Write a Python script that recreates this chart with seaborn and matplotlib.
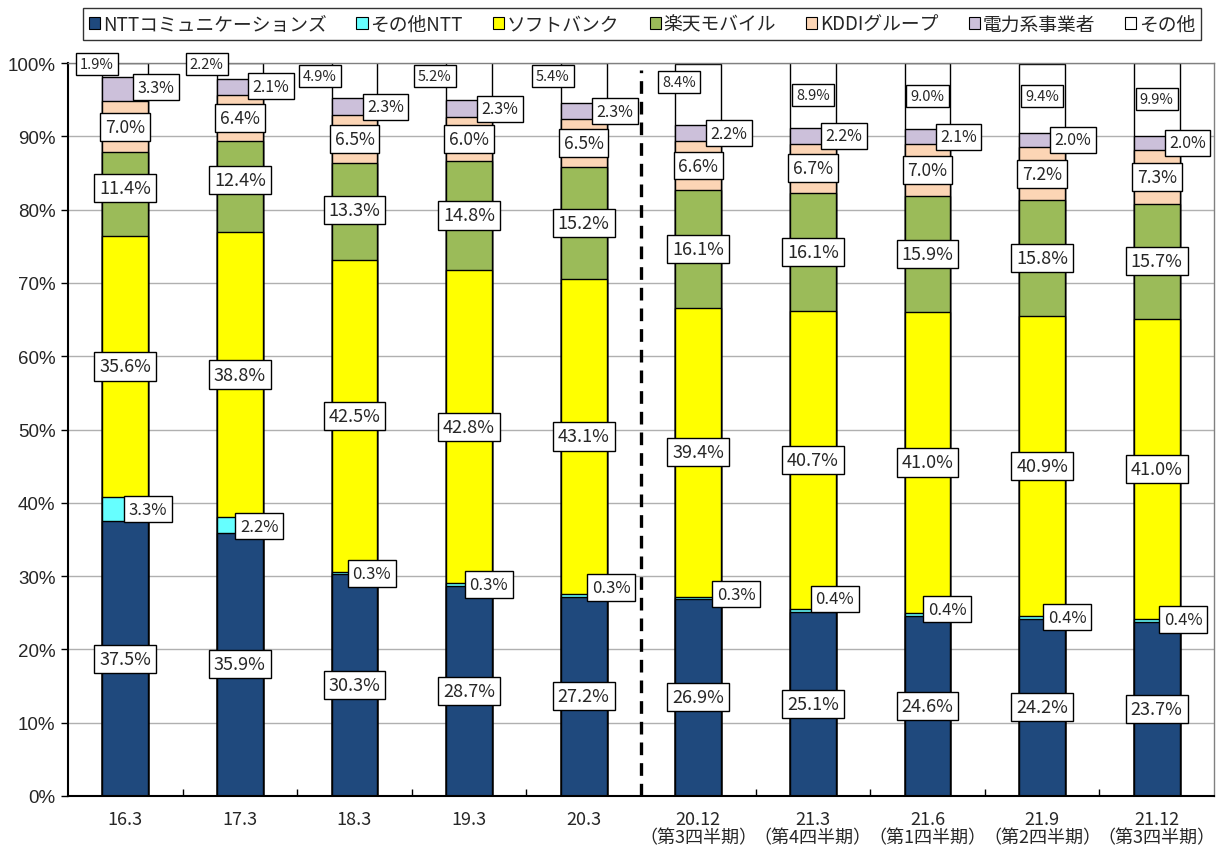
import numpy as np
import pandas as pd
import matplotlib
matplotlib.use("Agg")
import matplotlib.pyplot as plt
import seaborn as sns
from matplotlib.patches import Patch
from matplotlib.ticker import FixedLocator, MultipleLocator, PercentFormatter

# ---------------- data ----------------
periods = ["16.3", "17.3", "18.3", "19.3", "20.3", "20.12", "21.3", "21.6", "21.9", "21.12"]
quarters = ["", "", "", "", "", "（第3四半期）", "（第4四半期）", "（第1四半期）", "（第2四半期）", "（第3四半期）"]

series_names = ["NTTコミュニケーションズ", "その他NTT", "ソフトバンク", "楽天モバイル",
                "KDDIグループ", "電力系事業者", "その他"]
ntt_com = [37.5, 35.9, 30.3, 28.7, 27.2, 26.9, 25.1, 24.6, 24.2, 23.7]
ntt_other = [3.3, 2.2, 0.3, 0.3, 0.3, 0.3, 0.4, 0.4, 0.4, 0.4]
softbank = [35.6, 38.8, 42.5, 42.8, 43.1, 39.4, 40.7, 41.0, 40.9, 41.0]
rakuten = [11.4, 12.4, 13.3, 14.8, 15.2, 16.1, 16.1, 15.9, 15.8, 15.7]
kddi = [7.0, 6.4, 6.5, 6.0, 6.5, 6.6, 6.7, 7.0, 7.2, 7.3]
electric = [3.3, 2.1, 2.3, 2.3, 2.3, 2.2, 2.2, 2.1, 2.0, 2.0]
others = [1.9, 2.2, 4.9, 5.2, 5.4, 8.4, 8.9, 9.0, 9.4, 9.9]

# ---------------- styles (label placement nudges) ----------------
colors = ["#1F497D", "#66FFFF", "#FFFF00", "#9BBB59", "#FCD5B5", "#CCC0DA", "#FFFFFF"]
label_size = [13, 12, 13, 13, 12.5, 11.5, 10.5]
zero = [0] * 10
label_dx = [zero,
            [0.2, 0.17, 0.15, 0.17, 0.24, 0.33, 0.19, 0.17, 0.22, 0.23],
            zero, zero, zero,
            [0.27] * 10,
            [-0.25, -0.29, -0.30, -0.30, -0.27, -0.17, 0, 0, 0, 0]]
label_dy = [zero,
            [0, -0.2, -0.1, 0, 1.1, 0.5, 1.6, 0.7, 0, 0.2],
            zero,
            [0.8, 0.9, 0.2, 0, 0, 0, 0, 0, 0, 0],
            zero,
            [0.25, 0.1, 0, 0, 0, 0, 0, 0, 0, 0],
            [0.85, 1.0, 0.6, 0.75, 0.9, 1.75, 0, 0, 0.25, 0]]

NUM_FONT = ["Noto Sans CJK JP", "DejaVu Sans"]
JP_FONT = ["Noto Sans CJK JP", "DejaVu Sans"]

sns.set_theme(style="white")
plt.rcParams["font.family"] = ["Liberation Sans", "Noto Sans CJK JP", "DejaVu Sans"]

values = [ntt_com, ntt_other, softbank, rakuten, kddi, electric, others]
data = pd.DataFrame({name: vals for name, vals in zip(series_names, values)}, index=periods)
cum = data.cumsum(axis=1)

fig = plt.figure(figsize=(12.19, 8.54), dpi=100)
ax = fig.add_axes([68 / 1219, 1 - 797 / 854, (1214 - 68) / 1219, (797 - 64) / 854])

# stacked bars: draw cumulative totals from the top series downward
for i in range(len(series_names) - 1, -1, -1):
    name = series_names[i]
    df = pd.DataFrame({"period": periods, "top": cum[name].values})
    sns.barplot(data=df, x="period", y="top", order=periods, color=colors[i],
                saturation=1, edgecolor="black", linewidth=1.0, width=0.4,
                errorbar=None, ax=ax, zorder=2)

ax.set_ylim(0, 100)
ax.set_xlim(-0.5, len(periods) - 0.5)

# data labels
box = dict(boxstyle="square,pad=0.28", fc="white", ec="black", lw=1.0)
for i, name in enumerate(series_names):
    for j in range(len(periods)):
        v = data.iloc[j, i]
        top = min(cum.iloc[j, i], 100)
        bot = cum.iloc[j, i] - v
        y = (top + bot) / 2 + label_dy[i][j]
        x = j + label_dx[i][j]
        ax.text(x, y, f"{v:.1f}%", ha="center", va="center", fontsize=label_size[i],
                family=NUM_FONT, bbox=box, zorder=6)

# divider
ax.axvline(4.5, ymin=0, ymax=0.99, color="black", lw=2.4, ls=(0, (3.8, 2.4)), zorder=4)

# axes styling
ax.yaxis.set_major_locator(MultipleLocator(10))
ax.yaxis.set_major_formatter(PercentFormatter(decimals=0))
ax.grid(axis="y", color="#B0B0B0", lw=1.0, zorder=0)
ax.set_axisbelow(True)
ax.set_xlabel("")
ax.set_ylabel("")
ax.set_xticks(range(len(periods)))
ax.set_xticklabels([p if q == "" else f"{p}\n{q}" for p, q in zip(periods, quarters)],
                   family=NUM_FONT, fontsize=13, linespacing=1.05)
ax.xaxis.set_minor_locator(FixedLocator(np.arange(0.5, len(periods) - 0.5, 1)))
ax.tick_params(axis="x", which="major", length=0, pad=10)
ax.tick_params(axis="x", which="minor", length=5, direction="in", width=1, color="black", bottom=True)
ax.tick_params(axis="y", which="major", length=5, direction="out", width=1, color="black",
               left=True, labelsize=13.5, pad=4)
for lab in ax.get_yticklabels():
    lab.set_family(["Liberation Sans", "DejaVu Sans"])
for s in ["left", "bottom"]:
    ax.spines[s].set_color("black")
    ax.spines[s].set_linewidth(1.5)
for s in ["top", "right"]:
    ax.spines[s].set_color("#808080")
    ax.spines[s].set_linewidth(1.0)

# legend
handles = [Patch(facecolor=c, edgecolor="black", lw=0.8) for c in colors]
leg = fig.legend(handles, series_names, loc="center", bbox_to_anchor=(642 / 1219, 1 - 25 / 854),
                 ncol=7, frameon=True, fancybox=False, shadow=False, prop={"family": JP_FONT, "size": 13.5},
                 handlelength=0.6, handleheight=0.6, handletextpad=0.15, columnspacing=1.6,
                 borderpad=0.3, borderaxespad=0)
leg.get_frame().set_edgecolor("black")
leg.get_frame().set_linewidth(1.0)

fig.savefig("out.png", dpi=100)
